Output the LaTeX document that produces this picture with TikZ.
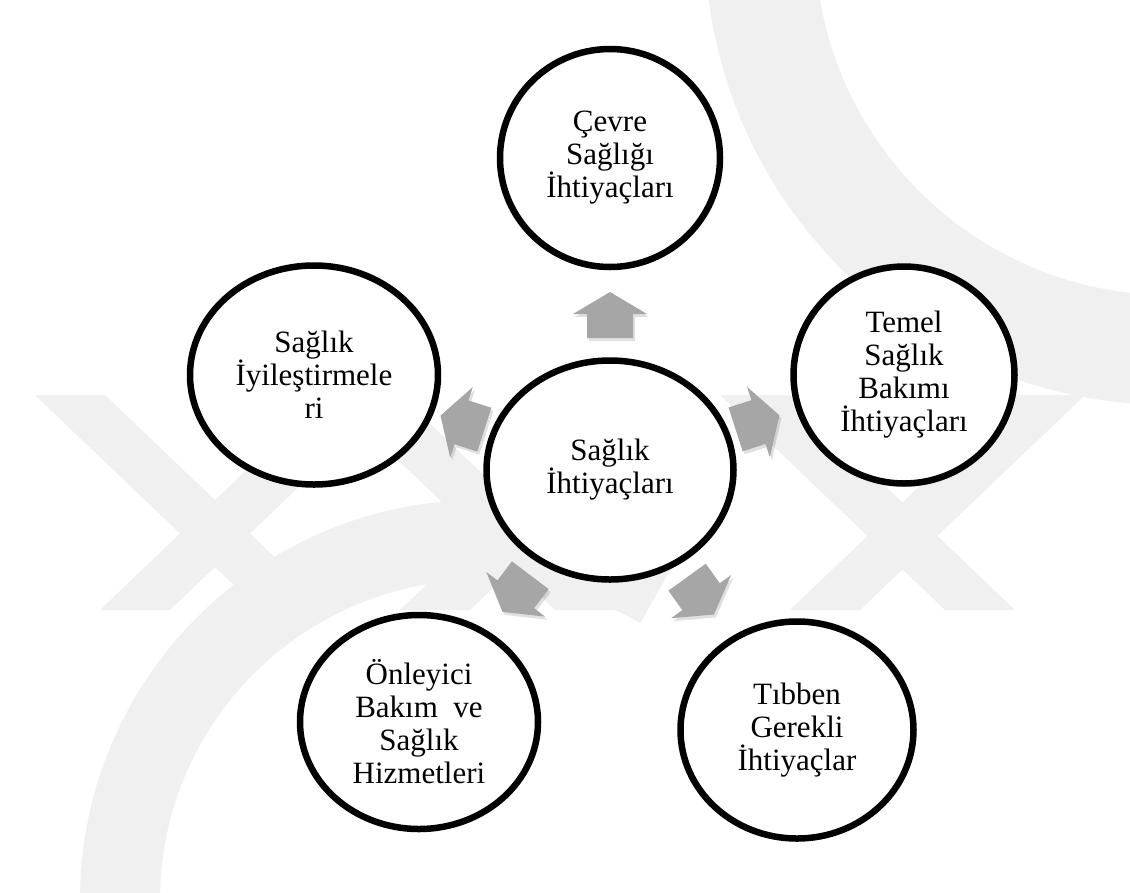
\documentclass[tikz,border=0pt]{standalone}
\usepackage{fontspec}
\setmainfont{Liberation Serif}
\usetikzlibrary{calc,shapes.geometric}
\definecolor{arrowgray}{HTML}{A6A6A6}
\definecolor{wmgray}{HTML}{F0F0F0}
\begin{document}
\begin{tikzpicture}[x=1pt,y=-1pt,
  bubble/.style={ellipse, draw=black, line width=6.5pt, fill=white, inner sep=0pt,
    align=center, font=\fontsize{31}{33}\selectfont},
  blockarrow/.style={fill=arrowgray, draw=none},
  arrowshadow/.style={fill=black, fill opacity=0.12, draw=none},
  wm/.style={fill=wmgray, draw=none},
  wmring/.style={draw=wmgray}]
\useasboundingbox (0,0) rectangle (1130,892);
\fill[white] (0,0) rectangle (1130,892);
% watermark (approximate)
\draw[wmring, line width=110pt] (1170,-60) ++(180:410) arc[start angle=180, end angle=90, radius=410];
\draw[wmring, line width=80pt] (480,900) ++(180:360) arc[start angle=180, end angle=300, radius=360];
\fill[wm] (35,395) -- (105,395) -- (330,610) -- (260,610) -- cycle;
\fill[wm] (100,610) -- (170,610) -- (395,395) -- (325,395) -- cycle;
\fill[wm] (330,395) -- (400,395) -- (625,610) -- (555,610) -- cycle;
\fill[wm] (400,610) -- (470,610) -- (695,395) -- (625,395) -- cycle;
\fill[wm] (720,395) -- (790,395) -- (1015,610) -- (945,610) -- cycle;
\fill[wm] (790,610) -- (860,610) -- (1085,395) -- (1015,395) -- cycle;
% nodes
\node[bubble, minimum width=247pt, minimum height=219pt] (merkez) at (610,470) {Sağlık\\İhtiyaçları};
\node[bubble, minimum width=220pt, minimum height=218pt] (cevre) at (610,158) {Çevre\\Sağlığı\\İhtiyaçları};
\node[bubble, minimum width=221pt, minimum height=217pt] (temel) at (904,375) {Temel\\Sağlık\\Bakımı\\İhtiyaçları};
\node[bubble, minimum width=248pt, minimum height=219pt] (iyi) at (314,375) {Sağlık\\İyileştirmele\\ri};
\node[bubble, minimum width=238pt, minimum height=214pt] (onl) at (419,722) {Önleyici\\Bakım\ \ ve\\Sağlık\\Hizmetleri};
\node[bubble, minimum width=233pt, minimum height=217pt] (tib) at (797,730) {Tıbben\\Gerekli\\İhtiyaçlar};
% block arrows from the centre to each outer circle
\foreach \t in {cevre,temel,tib,onl,iyi}{
  \pgfmathanglebetweenpoints{\pgfpointanchor{merkez}{center}}{\pgfpointanchor{\t}{center}}
  \let\ang\pgfmathresult
  \begin{scope}[shift={($(merkez)!155pt!(\t)+(2,3)$)}, rotate=\ang]
    \fill[arrowshadow] (-23pt,-23pt) -- (1pt,-23pt) -- (1pt,-37pt) -- (23pt,0pt)
      -- (1pt,37pt) -- (1pt,23pt) -- (-23pt,23pt) -- cycle;
  \end{scope}
  \begin{scope}[shift={($(merkez)!155pt!(\t)$)}, rotate=\ang]
    \fill[blockarrow] (-23pt,-23pt) -- (1pt,-23pt) -- (1pt,-37pt) -- (23pt,0pt)
      -- (1pt,37pt) -- (1pt,23pt) -- (-23pt,23pt) -- cycle;
  \end{scope}
}
\end{tikzpicture}
\end{document}
